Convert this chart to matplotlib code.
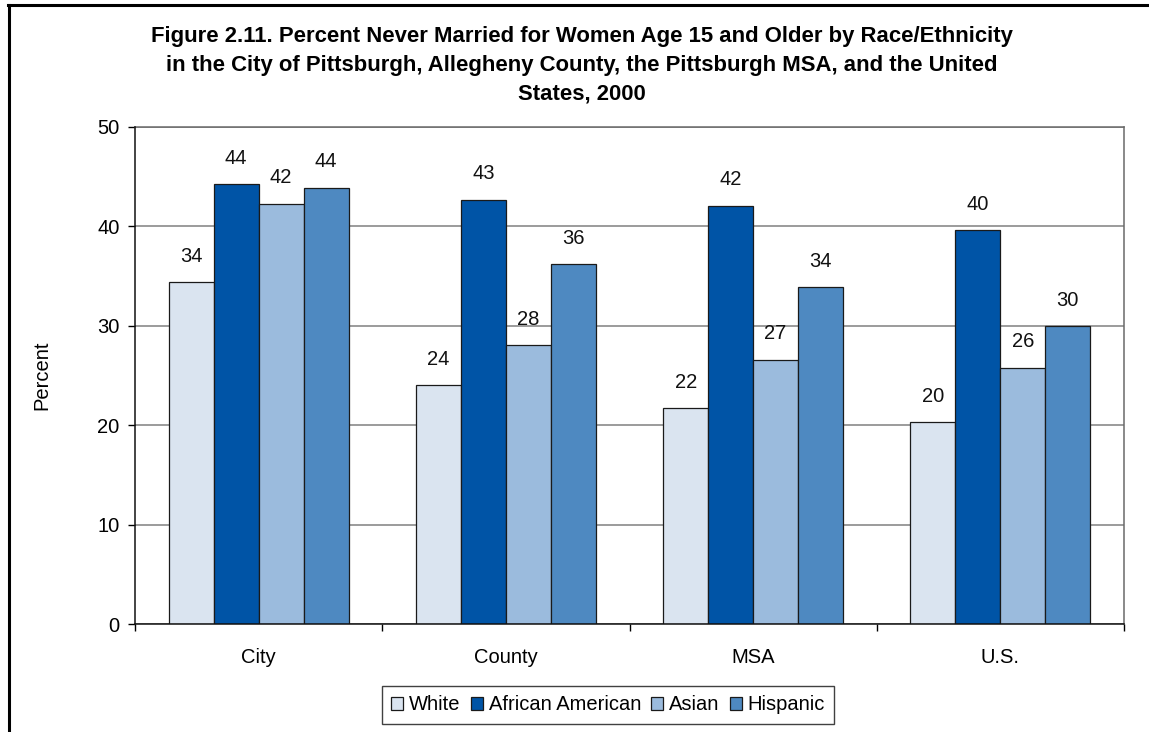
import matplotlib

matplotlib.use("Agg")
import matplotlib.pyplot as plt
from matplotlib.lines import Line2D
import numpy as np

plt.rcParams["font.family"] = ["Liberation Sans", "DejaVu Sans"]

regions = ["City", "County", "MSA", "U.S."]
groups = ["White", "African American", "Asian", "Hispanic"]
white = [34.4, 24.0, 21.7, 20.3]
african_american = [44.3, 42.7, 42.1, 39.6]
asian = [42.3, 28.1, 26.6, 25.8]
hispanic = [43.9, 36.2, 33.9, 30.0]
colors = ["#dae4f0", "#0054a6", "#9bbbdd", "#4e89c1"]
title_lines = [
    "Figure 2.11. Percent Never Married for Women Age 15 and Older by Race/Ethnicity",
    "in the City of Pittsburgh, Allegheny County, the Pittsburgh MSA, and the United",
    "States, 2000",
]

W, H = 1149, 732
fig = plt.figure(figsize=(W / 100, H / 100), dpi=100)
ax = fig.add_axes([135 / W, 1 - 624 / H, (1124 - 135) / W, (624 - 127) / H])

series = [white, african_american, asian, hispanic]
x = np.arange(len(regions))
bw = 0.182
for i, (name, vals, col) in enumerate(zip(groups, series, colors)):
    pos = x + (i - 1.5) * bw
    ax.bar(pos, vals, bw, color=col, edgecolor="#1a1a1a", linewidth=0.9,
           label=name, zorder=3)
    for px, v in zip(pos, vals):
        ax.annotate(f"{v:.0f}", (px, v), xytext=(0, 14.5),
                    textcoords="offset points", ha="center", va="baseline",
                    fontsize=14.5, color="#111111")

ax.set_xlim(-0.5, 3.5)
ax.set_ylim(0, 50)
ax.set_yticks(range(0, 51, 10))
ax.set_xticks(x)
ax.set_xticklabels(regions)
ax.set_xticks([-0.5, 0.5, 1.5, 2.5, 3.5], minor=True)
ax.tick_params(axis="x", which="major", length=0, pad=17, labelsize=14.5)
ax.tick_params(axis="x", which="minor", length=5, width=1, direction="out")
ax.tick_params(axis="y", length=5, width=1, pad=6, labelsize=14.5)
ax.yaxis.grid(True, color="#808080", linewidth=1.1, zorder=0)
ax.set_axisbelow(True)
for s in ("left", "bottom"):
    ax.spines[s].set_color("#111111")
    ax.spines[s].set_linewidth(1.1)
    ax.spines[s].set_zorder(4)
for s in ("top", "right"):
    ax.spines[s].set_color("#6a6a6a")
    ax.spines[s].set_linewidth(1.1)

fig.text(42 / W, 1 - 375 / H, "Percent", rotation=90, ha="center",
         va="center", fontsize=14.5)

for k, line in enumerate(title_lines):
    fig.text(582 / W, 1 - (42.3 + 28.7 * k) / H, line, ha="center",
             va="baseline", fontsize=15.9, fontweight="bold")

leg = fig.legend(loc="center", bbox_to_anchor=(608 / W, 1 - 705 / H), ncol=4,
                 fontsize=14.5, frameon=True, fancybox=False, handlelength=0.6,
                 handleheight=0.6, handletextpad=0.3, columnspacing=0.5,
                 borderpad=0.45, borderaxespad=0)
leg.get_frame().set_edgecolor("#111111")
leg.get_frame().set_linewidth(1.0)

# outer frame: top and left edges only
fig.add_artist(Line2D([9 / W, 9 / W], [0, 1 - 5 / H], color="black",
                      linewidth=2.2, transform=fig.transFigure))
fig.add_artist(Line2D([8 / W, 1], [1 - 5 / H, 1 - 5 / H], color="black",
                      linewidth=2.2, transform=fig.transFigure))

fig.savefig("out.png", dpi=100)
